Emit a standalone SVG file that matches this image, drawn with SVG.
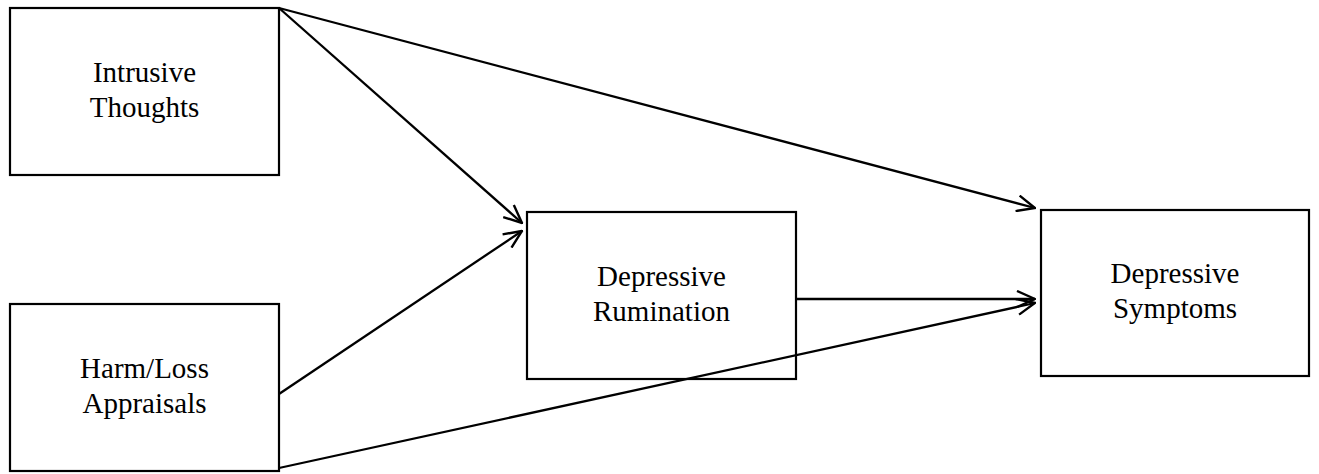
<svg xmlns="http://www.w3.org/2000/svg" width="1319" height="474" viewBox="0 0 1319 474">
  <style>
    .box { fill: #ffffff; stroke: #000000; stroke-width: 2.2; }
    .lbl { font-family: "Liberation Serif", "Times New Roman", serif; font-size: 29px; fill: #000000; text-anchor: middle; }
    .conn { stroke: #000000; stroke-width: 2.3; fill: none; marker-end: url(#arrow); }
  </style>
  <defs>
    <marker id="arrow" viewBox="0 0 20 18" refX="19" refY="9" markerWidth="20" markerHeight="18" markerUnits="userSpaceOnUse" orient="auto">
      <path d="M1,1 L19,9 L1,17" fill="none" stroke="#000000" stroke-width="2.4" stroke-linejoin="miter"/>
    </marker>
  </defs>
  <rect width="1319" height="474" fill="#ffffff"/>
  <g id="node-intrusive-thoughts">
    <rect class="box" x="10" y="8" width="269" height="167"/>
    <text class="lbl" x="144.5" y="82">Intrusive</text>
    <text class="lbl" x="144.5" y="117">Thoughts</text>
  </g>
  <g id="node-harm-loss-appraisals">
    <rect class="box" x="10" y="304" width="269" height="167"/>
    <text class="lbl" x="144.5" y="378">Harm/Loss</text>
    <text class="lbl" x="144.5" y="413">Appraisals</text>
  </g>
  <g id="node-depressive-rumination">
    <rect class="box" x="527" y="212" width="269" height="167"/>
    <text class="lbl" x="661.5" y="286">Depressive</text>
    <text class="lbl" x="661.5" y="321">Rumination</text>
  </g>
  <g id="node-depressive-symptoms">
    <rect class="box" x="1041" y="210" width="268" height="166"/>
    <text class="lbl" x="1175" y="283">Depressive</text>
    <text class="lbl" x="1175" y="318">Symptoms</text>
  </g>
  <g id="connectors">
    <line class="conn" x1="279" y1="8" x2="522" y2="223"/>
    <line class="conn" x1="279" y1="394" x2="522" y2="231"/>
    <line class="conn" x1="279" y1="8" x2="1035" y2="208"/>
    <line class="conn" x1="796" y1="299" x2="1035" y2="299"/>
    <line class="conn" x1="279" y1="468" x2="1035" y2="303"/>
  </g>
</svg>
